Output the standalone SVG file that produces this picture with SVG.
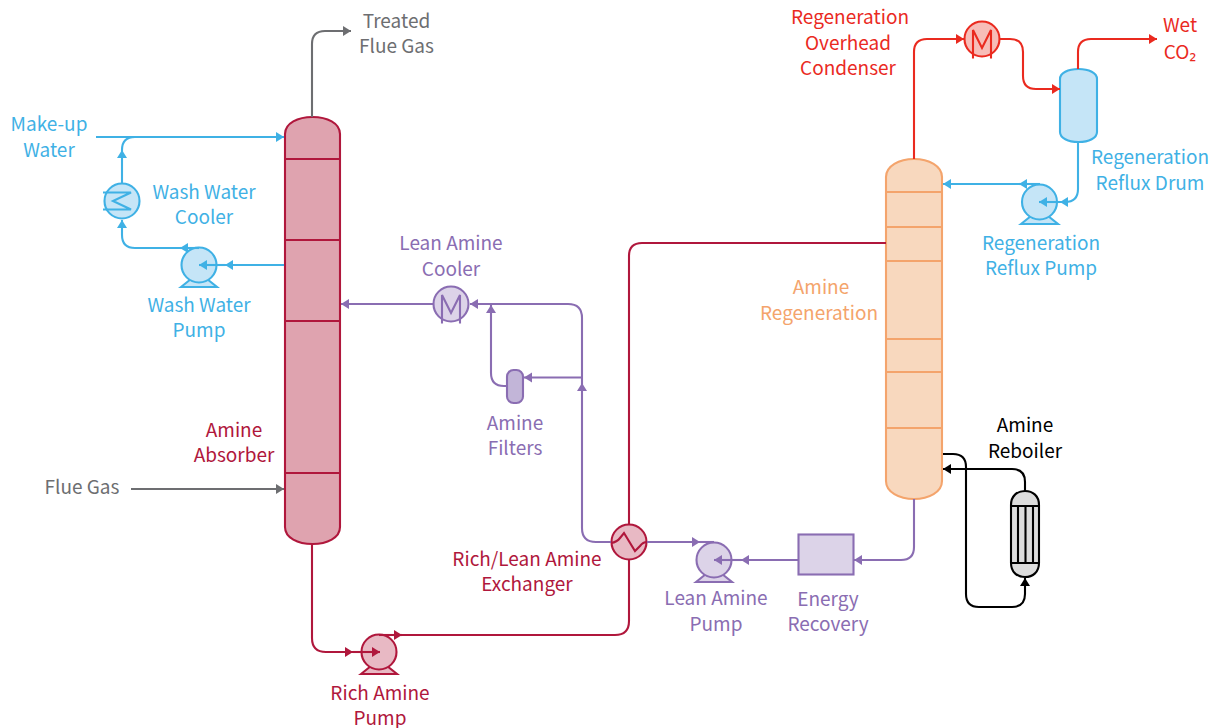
<svg xmlns="http://www.w3.org/2000/svg" width="1214" height="728" viewBox="0 0 1214 728">
<defs>
<marker id="aGrey" markerUnits="userSpaceOnUse" markerWidth="9" markerHeight="12" refX="8" refY="6" orient="auto"><path d="M0 1L8 6L0 11Z" fill="#6d6e71"/></marker>
<marker id="aBlue" markerUnits="userSpaceOnUse" markerWidth="9" markerHeight="12" refX="8" refY="6" orient="auto"><path d="M0 1L8 6L0 11Z" fill="#3fb1e5"/></marker>
<marker id="aPurple" markerUnits="userSpaceOnUse" markerWidth="9" markerHeight="12" refX="8" refY="6" orient="auto"><path d="M0 1L8 6L0 11Z" fill="#8a6db2"/></marker>
<marker id="aCrimson" markerUnits="userSpaceOnUse" markerWidth="9" markerHeight="12" refX="8" refY="6" orient="auto"><path d="M0 1L8 6L0 11Z" fill="#b0173c"/></marker>
<marker id="aRed" markerUnits="userSpaceOnUse" markerWidth="9" markerHeight="12" refX="8" refY="6" orient="auto"><path d="M0 1L8 6L0 11Z" fill="#ea2a1f"/></marker>
<marker id="aBlack" markerUnits="userSpaceOnUse" markerWidth="9" markerHeight="12" refX="8" refY="6" orient="auto"><path d="M0 1L8 6L0 11Z" fill="#000"/></marker>
</defs>
<style>
text{font-family:"Noto Sans CJK SC","Noto Sans",sans-serif;font-size:19px;text-anchor:middle}
.c{fill:none;stroke-width:2.100}
.s{stroke-width:2.100}
.grey{stroke:#6d6e71}.blue{stroke:#3fb1e5}.purple{stroke:#8a6db2}.crimson{stroke:#b0173c}.red{stroke:#ea2a1f}.black{stroke:#000}.orange{stroke:#f4a46c}
.tg{fill:#6d6e71}.tb{fill:#3fb1e5}.tp{fill:#8a6db2}.tc{fill:#b0173c}.tr{fill:#ea2a1f}.tk{fill:#000}.to{fill:#f4a46c}
.fb{fill:#c5e5f7}.fp{fill:#dcd3e8}.fc{fill:#e8b9c4}.fr{fill:#f7bdb8}
.mg{marker-end:url(#aGrey)}.mb{marker-end:url(#aBlue)}.mp{marker-end:url(#aPurple)}.mc{marker-end:url(#aCrimson)}.mr{marker-end:url(#aRed)}.mk{marker-end:url(#aBlack)}
</style>
<g id="amine-absorber">
<path class="s crimson" fill="#dfa3af" d="M285 134C285 123 298 117 312.500 117C327 117 340 123 340 134V527C340 538 327 544 312.500 544C298 544 285 538 285 527Z"/>
<path class="c crimson" d="M285 159H340M285 240H340M285 321H340M285 473H340"/>
<text class="tc" x="234" y="437">Amine</text><text class="tc" x="234" y="462">Absorber</text>
</g>
<g id="amine-regeneration">
<path class="s orange" fill="#f8d8be" d="M886 177C886 166 899 159 914 159C929 159 942 166 942 177V481C942 492 929 499 914 499C899 499 886 492 886 481Z"/>
<path class="c orange" d="M886 192H942M886 227H942M886 261H942M886 339H942M886 372H942M886 428H942"/>
<text class="to" x="821" y="294">Amine</text><text class="to" x="819" y="320">Regeneration</text>
</g>
<g id="wash-water-cooler">
<circle class="s blue fb" cx="122" cy="201" r="17.500"/>
<path class="c blue" d="M103 192.500H131L113 201L131 209.500H103"/>
<text class="tb" x="204" y="199">Wash Water</text><text class="tb" x="204" y="224">Cooler</text>
</g>
<g id="wash-water-pump">
<path class="s blue fb" d="M181 287L191 279H207L217 287Z"/>
<circle class="s blue fb" cx="199" cy="265" r="17.500"/>
<text class="tb" x="199" y="312">Wash Water</text><text class="tb" x="199" y="337">Pump</text>
</g>
<g id="lean-amine-cooler">
<circle class="s purple fp" cx="451" cy="304" r="17.500"/>
<path class="c purple" d="M442 323.500V295L451 313L460 295V323.500"/>
<text class="tp" x="451" y="250">Lean Amine</text><text class="tp" x="451" y="276">Cooler</text>
</g>
<g id="amine-filters">
<rect class="s purple" fill="#c2b5d8" x="507" y="370" width="16" height="33" rx="6.500"/>
<text class="tp" x="515" y="430">Amine</text><text class="tp" x="515" y="455">Filters</text>
</g>
<g id="rich-lean-amine-exchanger">
<circle class="s crimson fc" cx="629" cy="542" r="17.500"/>
<text class="tc" x="527" y="566">Rich/Lean Amine</text><text class="tc" x="527" y="591">Exchanger</text>
</g>
<g id="lean-amine-pump">
<path class="s purple fp" d="M696 582L706 574H722L732 582Z"/>
<circle class="s purple fp" cx="714" cy="560" r="17.500"/>
<text class="tp" x="716" y="605">Lean Amine</text><text class="tp" x="716" y="631">Pump</text>
</g>
<g id="energy-recovery">
<rect class="s purple fp" x="798.500" y="534.500" width="55" height="40"/>
<text class="tp" x="828" y="606">Energy</text><text class="tp" x="828" y="631">Recovery</text>
</g>
<g id="rich-amine-pump">
<path class="s crimson fc" d="M361 674L371 666H387L397 674Z"/>
<circle class="s crimson fc" cx="379" cy="652" r="17.500"/>
<text class="tc" x="380" y="700">Rich Amine</text><text class="tc" x="380" y="725">Pump</text>
</g>
<g id="regeneration-overhead-condenser">
<circle class="s red fr" cx="982" cy="39" r="17.500"/>
<path class="c red" d="M973 58.500V30L982 48L991 30V58.500"/>
<text class="tr" x="850" y="24">Regeneration</text><text class="tr" x="848" y="50">Overhead</text><text class="tr" x="848" y="75">Condenser</text>
</g>
<g id="regeneration-reflux-drum">
<path class="s blue fb" d="M1060 79C1060 73 1068 69 1078.500 69C1089 69 1097 73 1097 79V132C1097 138 1089 142 1078.500 142C1068 142 1060 138 1060 132Z"/>
<text class="tb" x="1150" y="164">Regeneration</text><text class="tb" x="1150" y="190">Reflux Drum</text>
</g>
<g id="regeneration-reflux-pump">
<path class="s blue fb" d="M1021 224L1031 216H1048L1058 224Z"/>
<circle class="s blue fb" cx="1039.500" cy="202" r="17.500"/>
<text class="tb" x="1041" y="250">Regeneration</text><text class="tb" x="1041" y="275">Reflux Pump</text>
</g>
<g id="amine-reboiler">
<path class="s black" fill="#dcdcdc" d="M1011 505C1011 496 1017 491 1025 491C1033 491 1039 496 1039 505V563C1039 572 1033 577 1025 577C1017 577 1011 572 1011 563Z"/>
<path class="c black" d="M1011 506H1039M1011 563H1039M1018 506V563M1025.500 506V563M1033 506V563"/>
<text class="tk" x="1025" y="432">Amine</text><text class="tk" x="1025" y="458">Reboiler</text>
</g>
<g id="labels">
<text class="tg" x="396.500" y="28">Treated</text><text class="tg" x="396.500" y="53">Flue Gas</text>
<text class="tb" x="49" y="131">Make-up</text><text class="tb" x="49" y="157">Water</text>
<text class="tg" x="82" y="494">Flue Gas</text>
<text class="tr" x="1180" y="32">Wet</text><text class="tr" x="1180" y="59">CO₂</text>
</g>
<g id="connectors">
<path class="c grey mg" d="M312 117V44Q312 31 325 31H351"/>
<path class="c grey mg" d="M131 489H284"/>
<path class="c blue mb" d="M96 137H284"/>
<path class="c blue" d="M135 137H179"/>
<path class="c blue mb" d="M122 184V150"/>
<path class="c blue" d="M122 150Q122 137 135 137"/>
<path class="c blue mb" d="M199 248H180"/>
<path class="c blue mb" d="M180 248H135Q122 248 122 235V220"/>
<path class="c blue mb" d="M284 265H225"/>
<path class="c blue mb" d="M225 265H199"/>
<path class="c red mr" d="M914 159V52Q914 39 927 39H964"/>
<path class="c red mr" d="M999 39H1010Q1023 39 1023 52V76Q1023 89 1036 89H1060"/>
<path class="c red mr" d="M1078 69V52Q1078 39 1091 39H1157"/>
<path class="c blue mb" d="M1078 142V189Q1078 202 1065 202H1060"/>
<path class="c blue mb" d="M1060 202H1039"/>
<path class="c blue mb" d="M1040 184H1019"/>
<path class="c blue mb" d="M1019 184H943"/>
<path class="c purple mp" d="M914 499V547Q914 560 901 560H854"/>
<path class="c purple mp" d="M798 560H741"/>
<path class="c purple mp" d="M741 560H714"/>
<path class="c purple mp" d="M611 542H596Q582 542 582 528V383"/>
<path class="c purple mp" d="M582 383V318Q582 304 568 304H470"/>
<path class="c purple mp" d="M582 377.500H524"/>
<path class="c purple mp" d="M507 386H504Q491 386 491 373V305"/>
<path class="c purple mp" d="M433 304H341"/>
<path class="c purple mp" d="M647 542H700"/>
<path class="c purple" d="M700 542H714"/>
<path class="c crimson" d="M611 543Q617 542 620 538L624 533L635 551L640 546Q643 542 647 542"/>
<path class="c crimson" d="M629 524V256Q629 243 642 243H886"/>
<path class="c crimson" d="M629 560V621Q629 635 615 635H402"/>
<path class="c crimson mc" d="M379 635H402"/>
<path class="c crimson mc" d="M312 544V638Q312 652 326 652H353"/>
<path class="c crimson mc" d="M353 652H380"/>
<path class="c black mk" d="M943 454H953Q966 454 966 467V594Q966 607 979 607H1012Q1025 607 1025 594V578"/>
<path class="c black mk" d="M1025 491V482Q1025 469 1012 469H943"/>
</g>
</svg>
